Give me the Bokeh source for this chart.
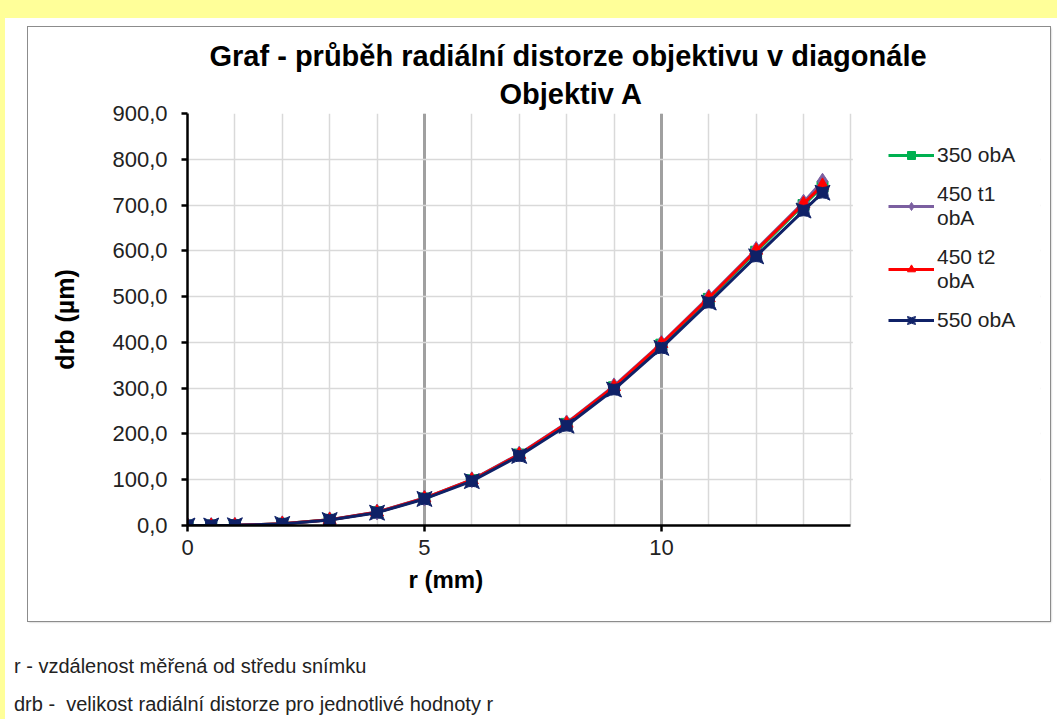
from bokeh.plotting import figure
from bokeh.layouts import column
from bokeh.models import (Legend, LegendItem, Title, Div, FixedTicker, BoxAnnotation,
                          CustomJSTickFormatter, Range1d)
from bokeh.embed import file_html
from bokeh.resources import INLINE

# ---------------- data ----------------
r_mm = [0, 0.5, 1, 2, 3, 4, 5, 6, 7, 8, 9, 10, 11, 12, 13, 13.4]
drb_350 = [0, 0, 0.5, 3.6, 12.3, 29, 59, 99, 155, 222, 302, 395, 495, 598, 700, 740]
drb_450_t1 = [0, 0, 0.5, 3.7, 12.5, 29.5, 60, 100, 156, 224, 305, 398, 499, 603, 706, 752]
drb_450_t2 = [0, 0, 0.5, 3.6, 12.4, 29, 59.5, 99.5, 155, 223, 303, 397, 497, 601, 703, 743]
drb_550 = [0, 0, 0.5, 3.5, 12, 28, 58, 97, 152, 218, 297, 388, 487, 588, 688, 727]

series_names = ["350 obA", "450 t1\nobA", "450 t2\nobA", "550 obA"]
x_ticks = [0, 5, 10]
x_minor = list(range(0, 15))
y_ticks = list(range(0, 901, 100))

title_1 = "Graf - průběh radiální distorze objektivu v diagonále"
title_2 = "Objektiv A"
x_title = "r (mm)"
y_title = "drb (µm)"
note_1 = "r - vzdálenost měřená od středu snímku"
note_2 = "drb -  velikost radiální distorze pro jednotlivé hodnoty r"

FONT = "Liberation Sans"
X_END = x_minor[-1]          # plot area ends at 14 mm; the legend sits to its right

p = figure(width=1022, height=594, output_backend="svg", toolbar_location=None,
           x_range=Range1d(0, 18.0), y_range=Range1d(0, 900))
p.min_border_left = 159
p.min_border_right = 10
p.min_border_top = 86
p.min_border_bottom = 96
p.outline_line_color = None
p.background_fill_color = "white"
p.border_fill_color = "white"
p.margin = (9, 0, 0, 23)
p.styles = {"outline": "1.5px solid #8c8c8c", "box-shadow": "1px 1px 2px #b0b0b0"}

# axes
p.xaxis.ticker = FixedTicker(ticks=x_ticks, minor_ticks=x_minor)
p.xaxis.bounds = (0, X_END)
p.yaxis.ticker = FixedTicker(ticks=y_ticks)
p.yaxis.formatter = CustomJSTickFormatter(code="return tick.toFixed(1).replace('.', ',');")
for ax in (p.xaxis[0], p.yaxis[0]):
    ax.axis_line_color = "black"
    ax.axis_line_width = 2.5
    ax.major_tick_line_color = "black"
    ax.major_tick_line_width = 2.5
    ax.major_tick_out = 6
    ax.major_tick_in = 0
    ax.minor_tick_line_color = None
    ax.major_label_text_font = FONT
    ax.major_label_text_font_size = "22px"
    ax.major_label_text_color = "#222222"
p.yaxis.major_label_standoff = 14
p.xaxis.major_label_standoff = 8

p.yaxis.axis_label = y_title
p.yaxis.axis_label_text_font = FONT
p.yaxis.axis_label_text_font_style = "bold"
p.yaxis.axis_label_text_font_size = "25px"
p.yaxis.axis_label_text_color = "black"
p.yaxis.axis_label_standoff = 30

# grids
p.xgrid.grid_line_color = "#a0a0a0"
p.xgrid.grid_line_width = 3
p.xgrid.minor_grid_line_color = "#d9d9d9"
p.xgrid.minor_grid_line_width = 1.5
p.ygrid.grid_line_color = "#d9d9d9"
p.ygrid.grid_line_width = 1.5

# white cover over the legend area (hides horizontal gridlines beyond 14 mm)
p.add_layout(BoxAnnotation(left=X_END + 0.04, fill_color="white", fill_alpha=1,
                           line_color=None, level="underlay"))

# series
r_350 = p.line(r_mm, drb_350, line_color="#00b050", line_width=3)
m_350 = p.scatter(r_mm, drb_350, marker="square", size=11, fill_color="#00b050", line_color="#00b050")
r_t1 = p.line(r_mm, drb_450_t1, line_color="#7b5fa0", line_width=3)
m_t1 = p.scatter(r_mm, drb_450_t1, marker="diamond", size=16, fill_color="#7b5fa0", line_color="#7b5fa0")
r_t2 = p.line(r_mm, drb_450_t2, line_color="#ff0000", line_width=3)
m_t2 = p.scatter(r_mm, drb_450_t2, marker="triangle", size=13, fill_color="#ff0000", line_color="#ff0000")
r_550 = p.line(r_mm, drb_550, line_color="#0f2167", line_width=3)
m_550 = p.scatter(r_mm, drb_550, marker="square_pin", size=15, fill_color="#0f2167", line_color="#0f2167")

legend = Legend(items=[
    LegendItem(label=series_names[0], renderers=[r_350, m_350]),
    LegendItem(label=series_names[1], renderers=[r_t1, m_t1]),
    LegendItem(label=series_names[2], renderers=[r_t2, m_t2]),
    LegendItem(label=series_names[3], renderers=[r_550, m_550]),
], location=(701, 193))
legend.border_line_color = None
legend.background_fill_alpha = 0
legend.padding = 0
legend.margin = 0
legend.spacing = 15
legend.glyph_width = 46
legend.label_standoff = 3
legend.label_text_font = FONT
legend.label_text_font_size = "21px"
legend.label_text_color = "#222222"
p.add_layout(legend, "center")

# titles (added inner first)
p.add_layout(Title(text=title_2, align="left", offset=312, standoff=8,
                   text_font=FONT, text_font_size="29px", text_font_style="bold",
                   text_color="black"), "above")
p.add_layout(Title(text=title_1, align="left", offset=22, standoff=0,
                   text_font=FONT, text_font_size="29px", text_font_style="bold",
                   text_color="black"), "above")
p.add_layout(Title(text=x_title, align="left", offset=221, standoff=12,
                   text_font=FONT, text_font_size="24px", text_font_style="bold",
                   text_color="black"), "below")

notes = Div(text=note_1 + "\n" + note_2, width=1040, height=72, margin=(26, 0, 0, 9),
            styles={"font-family": FONT, "font-size": "20px", "line-height": "38px",
                    "white-space": "pre", "color": "#222222"})

inner = column(p, notes, width=1052, height=701, margin=(18, 0, 0, 5),
               styles={"background-color": "white"})
root = column(inner, width=1057, height=719, styles={"background-color": "#ffff99"})

open("out.html", "w").write(file_html(root, INLINE))
